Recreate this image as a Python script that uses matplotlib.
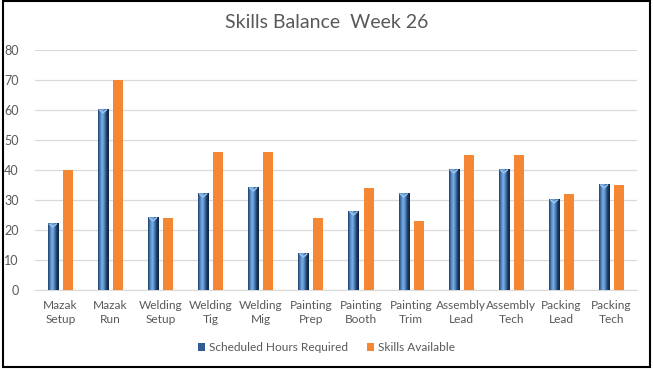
import numpy as np
import matplotlib.pyplot as plt
from matplotlib.patches import Rectangle, Patch
from matplotlib.colors import LinearSegmentedColormap

plt.rcParams['font.family'] = ['Lato', 'DejaVu Sans']

categories = ['Mazak\nSetup', 'Mazak\nRun', 'Welding\nSetup', 'Welding\nTig', 'Welding\nMig',
              'Painting\nPrep', 'Painting\nBooth', 'Painting\nTrim', 'Assembly\nLead',
              'Assembly\nTech', 'Packing\nLead', 'Packing\nTech']
scheduled = [22, 60, 24, 32, 34, 12, 26, 32, 40, 40, 30, 35]
skills = [40, 70, 24, 46, 46, 24, 34, 23, 45, 45, 32, 35]

fig = plt.figure(figsize=(6.53, 3.69), dpi=100)
ax = fig.add_axes([0.054, 0.214, 0.921, 0.651])

x = np.arange(len(categories))
w = 0.2
off = 0.15

# cylinder-like shading for the blue bars
cyl = LinearSegmentedColormap.from_list('cyl', ['#1f3f66', '#4f86c2', '#7fb0e6', '#4a7fba', '#1c3a60', '#0f2440'])
grad = np.linspace(0, 1, 64).reshape(1, -1)
for xi, v in zip(x, scheduled):
    ax.imshow(grad, cmap=cyl, aspect='auto', zorder=3,
              extent=(xi - off - w / 2, xi - off + w / 2, 0, v))
    ax.plot([xi - off - w / 2 + 0.03, xi - off, xi - off + w / 2 - 0.03], [v, v - 1.0, v],
            color='#9cc6f0', lw=1, zorder=4)

ax.bar(x + off, skills, w, color='#f58634', zorder=3)

ax.set_xlim(-0.5, len(categories) - 0.5)
ax.set_ylim(0, 80)
ax.set_yticks(range(0, 81, 10))
ax.set_xticks(x)
ax.set_xticklabels(categories, fontsize=8.6, linespacing=1.35)
ax.tick_params(axis='both', length=0, colors='#595959')
ax.tick_params(axis='y', labelsize=9, pad=12)
ax.tick_params(axis='x', pad=7)
ax.grid(axis='y', color='#d9d9d9', lw=0.9, zorder=0)
for s in ['top', 'right', 'left']:
    ax.spines[s].set_visible(False)
ax.spines['bottom'].set_color('#d9d9d9')

fig.text(0.5, 0.938, 'Skills Balance  Week 26', ha='center', va='center',
         fontsize=14, color='#595959')

handles = [Patch(facecolor='#2f5d91', label='Scheduled Hours Required'),
           Patch(facecolor='#f58634', label='Skills Available')]
fig.legend(handles=handles, loc='center', bbox_to_anchor=(0.5, 0.058), ncol=2,
           frameon=False, fontsize=8.6, handlelength=0.6, handleheight=0.7,
           columnspacing=1.6, handletextpad=0.3, labelcolor='#595959')

fig.patches.append(Rectangle((0.004, 0.006), 0.992, 0.99, transform=fig.transFigure,
                             fill=False, edgecolor='black', lw=1.5))

fig.savefig('out.png', dpi=100)
